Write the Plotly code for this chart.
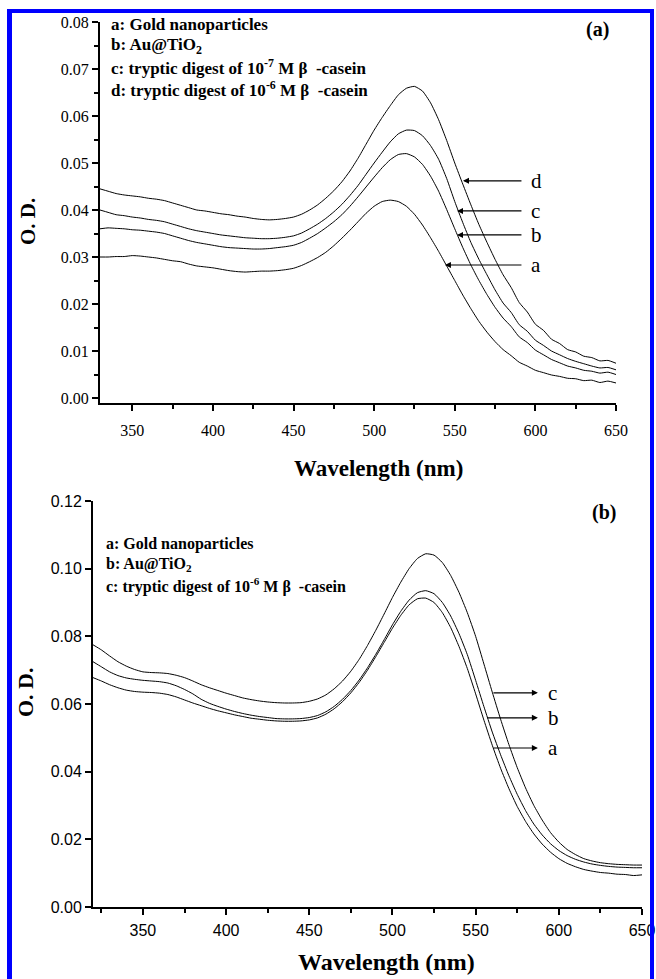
import numpy as np
import plotly.graph_objects as go

# ---- Panel (a): UV-vis spectra, 330-650 nm every 5 nm ----
wl_a = np.arange(330, 651, 5)

od_a_gold = [0.0300, 0.0300, 0.0301, 0.0301, 0.0303, 0.0302, 0.0300, 0.0298, 0.0295, 0.0292,
             0.0290, 0.0285, 0.0281, 0.0279, 0.0277, 0.0274, 0.0271, 0.0269, 0.0268, 0.0269,
             0.0270, 0.0270, 0.0271, 0.0273, 0.0276, 0.0282, 0.0290, 0.0299, 0.0310, 0.0324,
             0.0340, 0.0357, 0.0375, 0.0393, 0.0408, 0.0418, 0.0421, 0.0418, 0.0408, 0.0391,
             0.0368, 0.0341, 0.0312, 0.0281, 0.0250, 0.0219, 0.0190, 0.0163, 0.0140, 0.0120,
             0.0103, 0.0090, 0.0076, 0.0068, 0.0059, 0.0054, 0.0049, 0.0046, 0.0042, 0.0041,
             0.0037, 0.0038, 0.0033, 0.0036, 0.0032]

od_a_autio2 = [0.0360, 0.0362, 0.0361, 0.0360, 0.0358, 0.0357, 0.0355, 0.0353, 0.0350, 0.0345,
               0.0340, 0.0335, 0.0331, 0.0328, 0.0325, 0.0322, 0.0320, 0.0319, 0.0318, 0.0317,
               0.0317, 0.0318, 0.0320, 0.0322, 0.0325, 0.0331, 0.0340, 0.0350, 0.0362, 0.0375,
               0.0390, 0.0408, 0.0428, 0.0449, 0.0470, 0.0490, 0.0507, 0.0518, 0.0520, 0.0513,
               0.0497, 0.0472, 0.0440, 0.0401, 0.0360, 0.0320, 0.0283, 0.0250, 0.0220, 0.0193,
               0.0170, 0.0152, 0.0130, 0.0118, 0.0102, 0.0092, 0.0082, 0.0075, 0.0068, 0.0064,
               0.0059, 0.0057, 0.0053, 0.0055, 0.0050]

od_a_digest7 = [0.0400, 0.0395, 0.0390, 0.0388, 0.0385, 0.0383, 0.0380, 0.0378, 0.0375, 0.0370,
                0.0365, 0.0360, 0.0356, 0.0353, 0.0350, 0.0347, 0.0345, 0.0343, 0.0341, 0.0340,
                0.0339, 0.0339, 0.0340, 0.0342, 0.0345, 0.0351, 0.0360, 0.0370, 0.0382, 0.0396,
                0.0412, 0.0431, 0.0452, 0.0476, 0.0500, 0.0523, 0.0545, 0.0562, 0.0570, 0.0569,
                0.0558, 0.0537, 0.0508, 0.0467, 0.0418, 0.0373, 0.0331, 0.0295, 0.0262, 0.0230,
                0.0202, 0.0182, 0.0156, 0.0142, 0.0123, 0.0112, 0.0100, 0.0092, 0.0084, 0.0078,
                0.0073, 0.0068, 0.0064, 0.0065, 0.0060]

od_a_digest6 = [0.0445, 0.0440, 0.0435, 0.0432, 0.0430, 0.0428, 0.0425, 0.0423, 0.0420, 0.0415,
                0.0410, 0.0405, 0.0400, 0.0398, 0.0395, 0.0392, 0.0390, 0.0387, 0.0385, 0.0382,
                0.0380, 0.0379, 0.0380, 0.0382, 0.0385, 0.0391, 0.0400, 0.0411, 0.0425, 0.0441,
                0.0460, 0.0483, 0.0510, 0.0540, 0.0570, 0.0597, 0.0622, 0.0645, 0.0659, 0.0663,
                0.0653, 0.0628, 0.0592, 0.0548, 0.0500, 0.0455, 0.0411, 0.0369, 0.0331, 0.0295,
                0.0262, 0.0235, 0.0203, 0.0183, 0.0157, 0.0144, 0.0125, 0.0116, 0.0103, 0.0098,
                0.0089, 0.0086, 0.0079, 0.0080, 0.0074]

# ---- Panel (b): UV-vis spectra, 320-650 nm every 5 nm ----
wl_b = np.arange(320, 651, 5)

od_b_gold = [0.0678, 0.0668, 0.0657, 0.0648, 0.0641, 0.0637, 0.0635, 0.0634, 0.0632, 0.0628,
             0.0621, 0.0612, 0.0603, 0.0595, 0.0587, 0.0580, 0.0574, 0.0568, 0.0563, 0.0558,
             0.0555, 0.0552, 0.0550, 0.0549, 0.0549, 0.0550, 0.0553, 0.0559, 0.0570, 0.0586,
             0.0607, 0.0633, 0.0664, 0.0700, 0.0740, 0.0782, 0.0824, 0.0862, 0.0893, 0.0911,
             0.0913, 0.0900, 0.0870, 0.0826, 0.0770, 0.0705, 0.0630, 0.0552, 0.0478, 0.0410,
             0.0350, 0.0297, 0.0253, 0.0216, 0.0186, 0.0162, 0.0143, 0.0129, 0.0119, 0.0111,
             0.0106, 0.0102, 0.0100, 0.0097, 0.0096, 0.0093, 0.0095]

od_b_autio2 = [0.0725, 0.0710, 0.0695, 0.0684, 0.0677, 0.0673, 0.0670, 0.0668, 0.0666, 0.0662,
               0.0654, 0.0643, 0.0630, 0.0614, 0.0602, 0.0593, 0.0585, 0.0578, 0.0572, 0.0567,
               0.0563, 0.0560, 0.0557, 0.0556, 0.0556, 0.0557, 0.0560, 0.0566, 0.0577, 0.0593,
               0.0614, 0.0640, 0.0671, 0.0707, 0.0747, 0.0790, 0.0834, 0.0874, 0.0907, 0.0929,
               0.0935, 0.0926, 0.0900, 0.0860, 0.0808, 0.0746, 0.0670, 0.0592, 0.0517, 0.0450,
               0.0388, 0.0333, 0.0285, 0.0245, 0.0213, 0.0187, 0.0167, 0.0152, 0.0141, 0.0133,
               0.0127, 0.0123, 0.0120, 0.0118, 0.0117, 0.0116, 0.0116]

od_b_digest6 = [0.0775, 0.0760, 0.0742, 0.0725, 0.0712, 0.0702, 0.0695, 0.0693, 0.0692, 0.0690,
                0.0685, 0.0678, 0.0668, 0.0657, 0.0648, 0.0640, 0.0632, 0.0625, 0.0618, 0.0613,
                0.0609, 0.0606, 0.0604, 0.0603, 0.0603, 0.0604, 0.0608, 0.0615, 0.0627, 0.0645,
                0.0668, 0.0697, 0.0732, 0.0773, 0.0818, 0.0866, 0.0915, 0.0960, 0.1000, 0.1030,
                0.1044, 0.1040, 0.1018, 0.0980, 0.0930, 0.0870, 0.0800, 0.0718, 0.0635, 0.0555,
                0.0480, 0.0412, 0.0352, 0.0300, 0.0257, 0.0220, 0.0192, 0.0170, 0.0155, 0.0143,
                0.0136, 0.0131, 0.0128, 0.0126, 0.0125, 0.0124, 0.0124]

legend_a = ["a: Gold nanoparticles",
            "b: Au@TiO<sub>2</sub>",
            "c: tryptic digest of 10<sup>-7</sup> M β  -casein",
            "d: tryptic digest of 10<sup>-6</sup> M β  -casein"]
legend_b = ["a: Gold nanoparticles",
            "b: Au@TiO<sub>2</sub>",
            "c: tryptic digest of 10<sup>-6</sup> M β  -casein"]

W, H = 656, 979
SERIF = "'Liberation Serif', 'Times New Roman', Tinos, 'DejaVu Serif', serif"
SANS = "'Liberation Sans', Arial, Arimo, sans-serif"


def px(x):
    return x / W


def py(y):
    return 1 - y / H


fig = go.Figure()
line = dict(color="black", width=1, shape="spline", smoothing=0.5)
for ys in (od_a_gold, od_a_autio2, od_a_digest7, od_a_digest6):
    fig.add_trace(go.Scatter(x=wl_a, y=ys, mode="lines", line=line,
                             xaxis="x", yaxis="y", showlegend=False))
for ys in (od_b_gold, od_b_autio2, od_b_digest6):
    fig.add_trace(go.Scatter(x=wl_b, y=ys, mode="lines", line=line,
                             xaxis="x2", yaxis="y2", showlegend=False))

axis_common = dict(showline=True, linecolor="black", linewidth=2, ticks="outside",
                   ticklen=6, tickwidth=2, tickcolor="black", showgrid=False,
                   zeroline=False, automargin=False)

fig.update_layout(
    width=W, height=H, autosize=False,
    margin=dict(l=0, r=0, t=0, b=0),
    paper_bgcolor="white", plot_bgcolor="white",
    xaxis=dict(axis_common, domain=[px(100), px(616)], range=[330, 650], anchor="y",
               dtick=50, tick0=0, ticklabelstandoff=6,
               tickfont=dict(family=SERIF, size=16, color="black"),
               minor=dict(dtick=25, tick0=0, ticks="outside", ticklen=4, tickwidth=1.5,
                          tickcolor="black")),
    yaxis=dict(axis_common, domain=[py(403), py(22)], range=[-0.00106, 0.08], anchor="x",
               dtick=0.01, tick0=0, tickformat=".2f",
               tickfont=dict(family=SERIF, size=16, color="black"),
               minor=dict(dtick=0.005, tick0=0, ticks="outside", ticklen=4, tickwidth=1.5,
                          tickcolor="black")),
    xaxis2=dict(axis_common, domain=[px(93), px(642)], range=[320, 650], anchor="y2",
                dtick=50, tick0=0, ticklabelstandoff=2,
                tickfont=dict(family=SANS, size=16, color="black"),
                minor=dict(dtick=25, tick0=0, ticks="outside", ticklen=4, tickwidth=1.5,
                           tickcolor="black")),
    yaxis2=dict(axis_common, domain=[py(907), py(501)], range=[0, 0.12], anchor="x2",
                dtick=0.02, tick0=0, tickformat=".2f",
                tickfont=dict(family=SANS, size=16, color="black")),
)


def label(text, x, y, size, xanchor="center", angle=0):
    return dict(text=text, x=px(x), y=py(y), xref="paper", yref="paper",
                xanchor=xanchor, yanchor="middle", showarrow=False, textangle=angle,
                font=dict(family=SERIF, size=size, color="black"))


ann = []
# axis titles
ann.append(label("<b>O. D.</b>", 28, 222, 21, angle=-90))
ann.append(label("<b>O. D.</b>", 25, 692, 22, angle=-90))
ann.append(label("<b>Wavelength (nm)</b>", 378, 469, 23))
ann.append(label("<b>Wavelength (nm)</b>", 386, 962, 24))
# panel tags
ann.append(label("<b>(a)</b>", 597, 30, 20))
ann.append(label("<b>(b)</b>", 604, 512, 20))
# legends
for i, t in enumerate(legend_a):
    ann.append(label("<b>%s</b>" % t, 109, 24 + 21.7 * i, 17, xanchor="left"))
for i, t in enumerate(legend_b):
    ann.append(label("<b>%s</b>" % t, 104, 544 + 20.5 * i, 16, xanchor="left"))

# curve labels with arrows, panel (a): arrows point left to the curves
labels_a = [("d", 555.1, 0.0462), ("c", 551.4, 0.0398), ("b", 551.4, 0.0347), ("a", 543.9, 0.0283)]
for name, xh, yv in labels_a:
    ann.append(dict(text="", x=xh, y=yv, ax=592.3, ay=yv, xref="x", yref="y",
                    axref="x", ayref="y", showarrow=True, arrowhead=2, arrowsize=1,
                    arrowwidth=1.2, arrowcolor="black"))
    ann.append(dict(text=name, x=596.0, y=yv, xref="x", yref="y", xanchor="left",
                    yanchor="middle", showarrow=False,
                    font=dict(family=SERIF, size=21, color="black")))

# curve labels with arrows, panel (b): arrows point right to the labels
labels_b = [("c", 559.8, 0.0633), ("b", 556.2, 0.0559), ("a", 559.8, 0.0470)]
for name, xt, yv in labels_b:
    ann.append(dict(text="", x=587.4, y=yv, ax=xt, ay=yv, xref="x2", yref="y2",
                    axref="x2", ayref="y2", showarrow=True, arrowhead=2, arrowsize=1,
                    arrowwidth=1.2, arrowcolor="black"))
    ann.append(dict(text=name, x=592.2, y=yv, xref="x2", yref="y2", xanchor="left",
                    yanchor="middle", showarrow=False,
                    font=dict(family=SERIF, size=21, color="black")))

fig.update_layout(annotations=ann)

# blue page frame
blue = "#0000ff"
fig.update_layout(shapes=[
    dict(type="line", xref="paper", yref="paper", x0=px(9.5), x1=px(9.5), y0=-0.02,
         y1=py(9), line=dict(color=blue, width=5)),
    dict(type="line", xref="paper", yref="paper", x0=px(7), x1=px(654), y0=py(11),
         y1=py(11), line=dict(color=blue, width=4)),
    dict(type="line", xref="paper", yref="paper", x0=px(652), x1=px(652), y0=-0.02,
         y1=py(9), line=dict(color=blue, width=4)),
])

fig.write_html("out.html")
